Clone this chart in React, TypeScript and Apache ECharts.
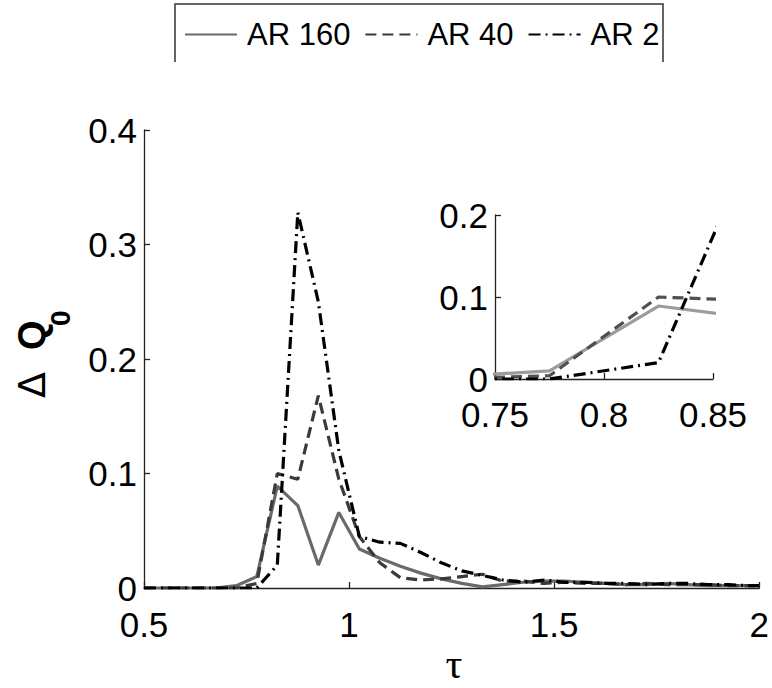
import React, { useEffect, useRef } from "react";
import * as echarts from "echarts";

// tau sampling points
const tau = [
  0.5, 0.525, 0.575, 0.625, 0.675, 0.725, 0.775, 0.825, 0.875, 0.925, 0.975,
  1.025, 1.075, 1.125, 1.175, 1.225, 1.275, 1.325, 1.375, 1.425, 1.475, 1.525,
  1.575, 1.625, 1.675, 1.725, 1.775, 1.825, 1.875, 1.925, 1.975, 2.0,
];
// Delta Q0 for AR 160
const ar160 = [
  0, 0, 0, 0, 0, 0.002, 0.01, 0.089, 0.072, 0.02, 0.066, 0.034, 0.026, 0.019,
  0.013, 0.008, 0.004, 0.001, 0.003, 0.005, 0.006, 0.006, 0.005, 0.004, 0.003,
  0.003, 0.004, 0.003, 0.002, 0.002, 0.002, 0.002,
];
// Delta Q0 for AR 40
const ar40 = [
  0, 0, 0, 0, 0, 0, 0.004, 0.1, 0.095, 0.168, 0.095, 0.045, 0.022, 0.009,
  0.007, 0.008, 0.01, 0.012, 0.006, 0.006, 0.004, 0.005, 0.004, 0.004, 0.003,
  0.004, 0.003, 0.003, 0.003, 0.002, 0.002, 0.002,
];
// Delta Q0 for AR 2
const ar2 = [
  0, 0, 0, 0, 0, 0, 0, 0.02, 0.328, 0.25, 0.12, 0.045, 0.04, 0.039, 0.031,
  0.022, 0.015, 0.011, 0.007, 0.005, 0.007, 0.005, 0.005, 0.004, 0.004, 0.003,
  0.004, 0.004, 0.003, 0.003, 0.002, 0.002,
];
const seriesNames = ["AR 160", "AR 40", "AR 2"];

const FONT = "Liberation Sans";

export default function App() {
  const ref = useRef<HTMLDivElement>(null);
  useEffect(() => {
    const chart = echarts.init(ref.current!, null, { renderer: "svg" });
    const pts = (ys: number[]) => tau.map((t, i) => [t, ys[i]]);
    const axisLine = { show: true, lineStyle: { color: "#222", width: 1.3 } };
    const axisTick = { show: true, inside: true, length: 6, lineStyle: { color: "#222", width: 1.3 } };
    const label = (margin: number) => ({
      fontSize: 35,
      fontFamily: FONT,
      color: "#000",
      margin,
    });
    const styles = [
      { color: "#6a6a6a", width: 3.2, type: "solid" as any },
      { color: "#3a3a3a", width: 3.2, type: [11, 6] as any },
      { color: "#000000", width: 3.2, type: [12, 5, 2, 5] as any },
    ];
    const insetColors = ["#9c9c9c", "#505050", "#000000"];
    const data = [ar160, ar40, ar2];
    const series: any[] = [];
    data.forEach((d, i) => {
      series.push({
        name: seriesNames[i],
        type: "line",
        xAxisIndex: 0,
        yAxisIndex: 0,
        data: pts(d),
        symbol: "none",
        showSymbol: false,
        lineStyle: styles[i],
        itemStyle: { color: styles[i].color },
        clip: true,
        z: 2 + i,
      });
    });
    data.forEach((d, i) => {
      series.push({
        name: seriesNames[i] + " inset",
        type: "line",
        xAxisIndex: 1,
        yAxisIndex: 1,
        data: pts(d),
        symbol: "none",
        showSymbol: false,
        lineStyle: { ...styles[i], color: insetColors[i] },
        itemStyle: { color: insetColors[i] },
        clip: true,
        z: 2 + i,
      });
    });

    const option: any = {
      animation: false,
      backgroundColor: "#fff",
      legend: {
        data: seriesNames,
        left: 184,
        top: 19,
        padding: 0,
        itemWidth: 52,
        itemHeight: 14,
        itemGap: 14,
        itemStyle: { opacity: 0 },
        textStyle: { fontSize: 31, fontFamily: FONT, color: "#000", padding: [0, 0, 0, 5] },
      },
      grid: [
        { left: 144, top: 130, right: 12, bottom: 100 },
        { left: 495, top: 215, right: 59, bottom: 309 },
      ],
      xAxis: [
        {
          gridIndex: 0,
          type: "value",
          min: 0.5,
          max: 2,
          interval: 0.5,
          axisLine,
          axisTick,
          axisLabel: label(19),
          splitLine: { show: false },
        },
        {
          gridIndex: 1,
          type: "value",
          min: 0.75,
          max: 0.85,
          interval: 0.05,
          axisLine,
          axisTick,
          axisLabel: label(18),
          splitLine: { show: false },
        },
      ],
      yAxis: [
        {
          gridIndex: 0,
          type: "value",
          min: 0,
          max: 0.4,
          interval: 0.1,
          axisLine,
          axisTick,
          axisLabel: label(7),
          splitLine: { show: false },
        },
        {
          gridIndex: 1,
          type: "value",
          min: 0,
          max: 0.2,
          interval: 0.1,
          axisLine,
          axisTick,
          axisLabel: label(7),
          splitLine: { show: false },
        },
      ],
      graphic: [
        {
          type: "polyline",
          shape: { points: [[175, 62], [175, 4], [663, 4], [663, 62]] },
          style: { stroke: "#333", lineWidth: 1.5, fill: "none" },
          z: 10,
        },
        {
          type: "text",
          x: 454,
          y: 664,
          style: {
            text: "τ",
            fontSize: 42,
            fontFamily: "Liberation Serif",
            fill: "#000",
            textAlign: "center",
            textVerticalAlign: "middle",
          },
        },
        {
          type: "group",
          x: 32,
          y: 398,
          rotation: Math.PI / 2,
          children: [
            {
              type: "text",
              x: 0,
              y: 0,
              style: {
                text: "Δ",
                fontSize: 38,
                fontFamily: "DejaVu Sans",
                fill: "#000",
                textAlign: "left",
                textVerticalAlign: "middle",
              },
            },
            {
              type: "text",
              x: 48,
              y: 0,
              style: {
                text: "Q",
                fontSize: 38,
                fontWeight: "bold",
                fontFamily: FONT,
                fill: "#000",
                textAlign: "left",
                textVerticalAlign: "middle",
              },
            },
            {
              type: "text",
              x: 72,
              y: 28,
              style: {
                text: "0",
                fontSize: 28,
                fontWeight: "bold",
                fontFamily: FONT,
                fill: "#000",
                textAlign: "left",
                textVerticalAlign: "middle",
              },
            },
          ],
        },
      ],
      series,
    };
    chart.setOption(option);
    return () => chart.dispose();
  }, []);
  return (
    <div
      ref={ref}
      style={{ width: 772, height: 688, position: "absolute", left: 0, top: 0 }}
    />
  );
}
